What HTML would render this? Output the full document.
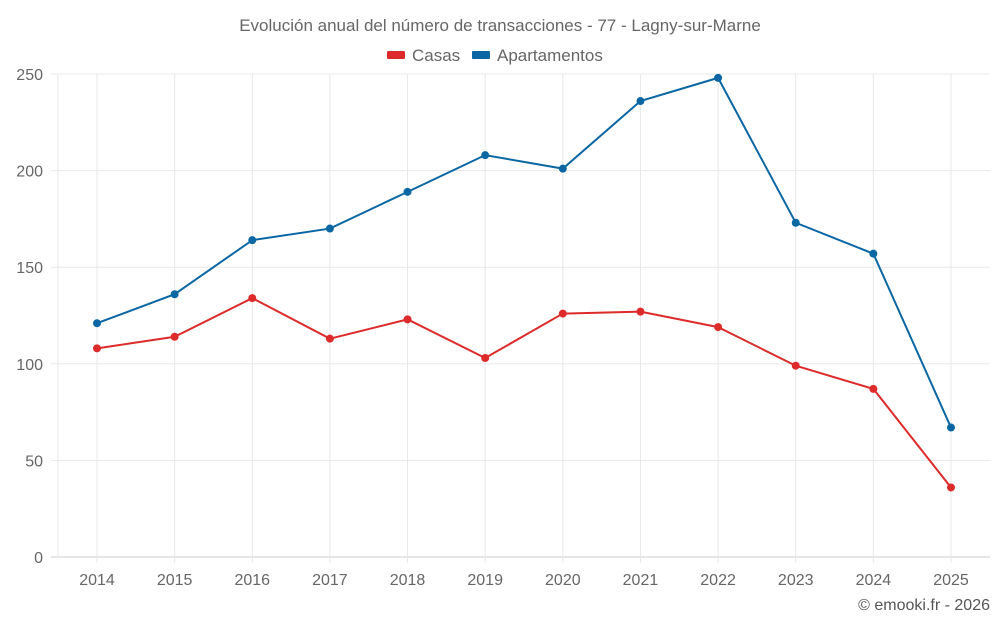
<!DOCTYPE html>
<html><head><meta charset="utf-8"><style>
body{margin:0;background:#fff;font-family:"Liberation Sans",sans-serif}
</style></head><body>
<svg id="c" width="1000" height="625" xmlns="http://www.w3.org/2000/svg">
<text x="500" y="31" text-anchor="middle" font-size="17" fill="#666">Evolución anual del número de transacciones - 77 - Lagny-sur-Marne</text>
<g>
<g><rect x="387" y="51" width="18" height="8" rx="1" fill="#dd2a2a"/><text x="412" y="61" font-size="17" fill="#666">Casas</text></g>
<g><rect x="472" y="51" width="18" height="8" rx="1" fill="#0a67a3"/><text x="497" y="61" font-size="17" fill="#666">Apartamentos</text></g>
</g>
<g id="grid"></g><g id="axes"></g><g id="series"></g>
<text x="990" y="610" text-anchor="end" font-size="16" fill="#555">© emooki.fr - 2026</text>
</svg>
<script>
const years=[2014,2015,2016,2017,2018,2019,2020,2021,2022,2023,2024,2025];
const casas=[108,114,134,113,123,103,126,127,119,99,87,36];
const apartamentos=[121,136,164,170,189,208,201,236,248,173,157,67];
const yTicks=[0,50,100,150,200,250];
const NS="http://www.w3.org/2000/svg";
const x0=58,x1=990,y0=557,y1=74;
function xs(i){return 97+i*(951-97)/(years.length-1);}
function ys(v){return y0-(v/250)*(y0-y1);}
function mk(t,a,p){const e=document.createElementNS(NS,t);for(const k in a)e.setAttribute(k,a[k]);p.appendChild(e);return e;}
const g=document.getElementById('grid'),ax=document.getElementById('axes'),s=document.getElementById('series');
yTicks.forEach(v=>{
 const l=mk('line',{x1:51,x2:x1,y1:ys(v),y2:ys(v),stroke:v===0?'#ccc':'#e8e8e8','stroke-width':1},g);
 
 
 const t=mk('text',{x:43,y:ys(v)+6,'text-anchor':'end','font-size':16,fill:'#666'},ax);
 t.textContent=v;
 
 
});
const lv=mk('line',{x1:x0,x2:x0,y1:y1,y2:y0,stroke:'#e8e8e8'},g);


years.forEach((yr,i)=>{
 const l=mk('line',{x1:xs(i),x2:xs(i),y1:y1,y2:y0+6,stroke:'#e8e8e8'},g);
 
 
 const t=mk('text',{x:xs(i),y:585,'text-anchor':'middle','font-size':16,fill:'#666'},ax);
 t.textContent=yr;
 
 
});
function series(vals,col,name){
 const p=mk('polyline',{points:vals.map((v,i)=>xs(i)+','+ys(v)).join(' '),fill:'none',stroke:col,'stroke-width':2},s);
 
 
 vals.forEach((v,i)=>{
  const c=mk('circle',{cx:xs(i),cy:ys(v),r:4,fill:col},s);
  
  
 });
}
series(casas,'#dd2a2a','casas');
series(apartamentos,'#0a67a3','apartamentos');
</script>
</body></html>
